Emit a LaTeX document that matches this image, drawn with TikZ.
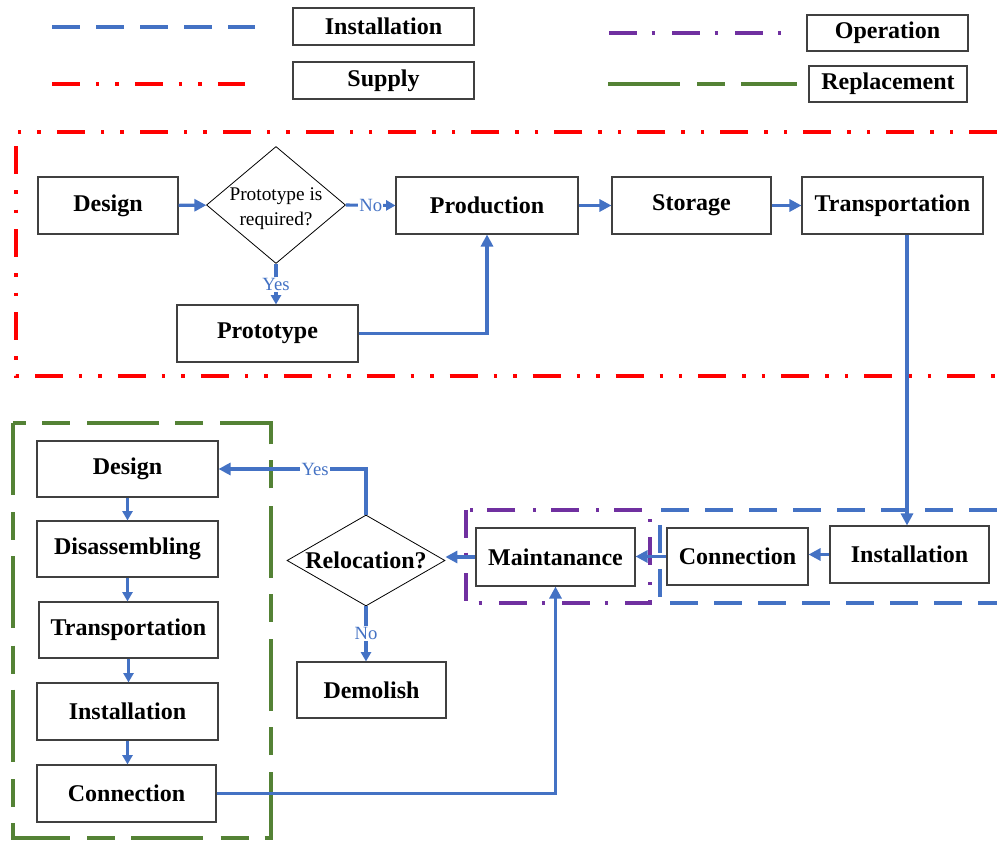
\documentclass[tikz,border=0pt]{standalone}
\usepackage{fontspec}
\setmainfont{Liberation Serif}
\usetikzlibrary{shapes.geometric,arrows.meta}

\definecolor{flowblue}{HTML}{4472C4}
\definecolor{supplyred}{HTML}{FF0000}
\definecolor{operpurple}{HTML}{7030A0}
\definecolor{replgreen}{HTML}{548235}
\definecolor{boxline}{HTML}{404040}

% content that takes no room, so a diamond keeps its given size
\newcommand{\zerobox}[1]{\smash{\makebox[0pt]{#1}}}

\tikzset{
  stepbox/.style={draw=boxline, line width=0.8pt, inner sep=0pt,
    font=\fontsize{18}{20}\selectfont\bfseries},
  sz/.style 2 args={minimum width=#1*0.75pt, minimum height=#2*0.75pt},
  decision/.style={diamond, draw=black, line width=0.6pt, inner sep=0pt},
  flow/.style={draw=flowblue, line width=2.3pt, -{Triangle[length=9pt,width=9pt]}},
  flowsmall/.style={draw=flowblue, line width=2.3pt, -{Triangle[length=7pt,width=7.5pt]}},
  answer/.style={text=flowblue, font=\fontsize{14}{16}\selectfont, fill=white, inner sep=1pt},
  instline/.style={draw=flowblue, line width=2.3pt, dash pattern=on 21pt off 12pt},
  supplyline/.style={draw=supplyred, line width=2.6pt,
    dash pattern=on 21pt off 12pt on 2.6pt off 12pt on 2.6pt off 12pt},
  operline/.style={draw=operpurple, line width=2.3pt,
    dash pattern=on 21pt off 11pt on 2.3pt off 13pt},
  replline/.style={draw=replgreen, line width=2.3pt,
    dash pattern=on 54pt off 13pt on 21pt off 12pt},
}

\begin{document}
\begin{tikzpicture}[x=0.75pt, y=-0.75pt]
\useasboundingbox (0,0) rectangle (997,841);

% ---------- legend ----------
\draw[instline]   (52,27) -- (255,27);
\draw[supplyline] (52,84) -- (245,84);
\draw[operline]   (609,33) -- (783,33);
\draw[replline]   (608,84) -- (797,84);
\node[stepbox, sz={181}{37}] (legInst)  at (383.5,26.5) {Installation};
\node[stepbox, sz={181}{37}] (legSup)   at (383.5,80.5) {Supply};
\node[stepbox, sz={161}{36}] (legOper)  at (887.5,33)   {Operation};
\node[stepbox, sz={158}{36}] (legRepl)  at (888,84)     {Replacement};

% ---------- phase frames ----------
\draw[supplyline] (997,132) -- (16,132) -- (16,376) -- (997,376);
\draw[instline]   (997,510) -- (660,510) -- (660,603) -- (997,603);
\draw[operline]   (466,510) rectangle (650,603);
\draw[replline]   (13,423) rectangle (271,838);

% ---------- supply chain ----------
\node[stepbox, sz={140}{57}] (design)  at (108,205.5)   {Design};
\node[decision, sz={139}{117}, font=\fontsize{14.5}{18.75}\selectfont] (proto?) at (276,205)
  {\zerobox{\raisebox{-5.75pt}{\begin{tabular}{@{}c@{}}Prototype is\\required?\end{tabular}}}};
\node[stepbox, sz={182}{57}] (prod)    at (487,205.5)   {Production};
\node[stepbox, sz={159}{57}] (stor)    at (691.5,205.5) {Storage};
\node[stepbox, sz={181}{57}] (trans)   at (892.5,205.5) {Transportation};
\node[stepbox, sz={181}{57}] (proto)   at (267.5,333.5) {Prototype};

\draw[flow] (design) -- (proto?);
\draw[flowsmall] (proto?.east) -- node[answer] {No} (prod.west);
\draw[flowsmall] (proto?.south) -- node[answer] {Yes} (proto?.south |- proto.north);
\draw[flow] (proto.east) -| (prod.south);
\draw[flow] (prod) -- (stor);
\draw[flow] (stor) -- (trans);

% ---------- installation and operation ----------
\node[stepbox, sz={159}{57}] (inst)  at (909.5,554.5) {Installation};
\node[stepbox, sz={141}{57}] (conn)  at (737.5,556.5) {Connection};
\node[stepbox, sz={159}{58}] (maint) at (555.5,557)   {Maintanance};
\node[decision, sz={158}{91}, font=\fontsize{18}{20}\selectfont\bfseries] (reloc) at (366,560.5)
  {\zerobox{\raisebox{-6pt}{Relocation?}}};
\node[stepbox, sz={149}{56}] (demo)  at (371.5,690)   {Demolish};

\draw[flow] ([xshift=-2.5*0.75pt]inst.north |- trans.south) -- ([xshift=-2.5*0.75pt]inst.north);
\draw[flow] (inst.west) -- (inst.west -| conn.east);
\draw[flow] (conn.west) -- (conn.west -| maint.east);
\draw[flow] (maint.west) -- (maint.west -| reloc.east);
\draw[flowsmall] (reloc.south) -- node[answer] {No} (reloc.south |- demo.north);

% ---------- replacement ----------
\node[stepbox, sz={181}{56}] (rdesign) at (127.5,469)   {Design};
\node[stepbox, sz={181}{56}] (rdis)    at (127.5,549)   {Disassembling};
\node[stepbox, sz={179}{56}] (rtrans)  at (128.5,630)   {Transportation};
\node[stepbox, sz={181}{57}] (rinst)   at (127.5,711.5) {Installation};
\node[stepbox, sz={179}{57}] (rconn)   at (126.5,793.5) {Connection};

\draw[flow] (reloc.north) -- (reloc.north |- rdesign.east)
  -- node[answer, pos=0.345] {Yes} (rdesign.east);
\draw[flowsmall] (rdesign.south) -- (rdesign.south |- rdis.north);
\draw[flowsmall] (rdis.south) -- (rdis.south |- rtrans.north);
\draw[flowsmall] (rtrans.south) -- (rtrans.south |- rinst.north);
\draw[flowsmall] (rinst.south) -- (rinst.south |- rconn.north);
\draw[flow] (rconn.east) -| (maint.south);
\end{tikzpicture}
\end{document}
